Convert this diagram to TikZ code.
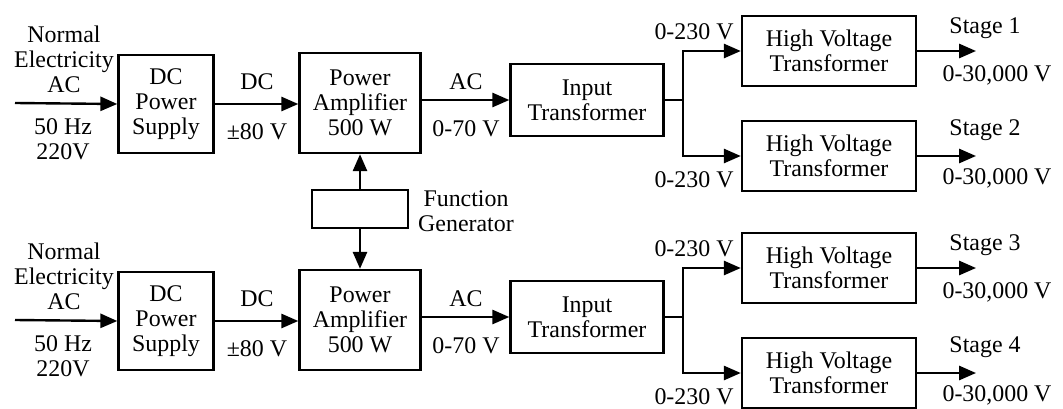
\documentclass[tikz,border=0pt]{standalone}
\usepackage{fontspec}
\setmainfont{Liberation Serif}
\usepackage{tikz}
\usetikzlibrary{arrows.meta}

\tikzset{
  blk/.style={draw,line width=1.7pt,inner sep=0pt,align=center,font=\fontsize{17pt}{17.8pt}\selectfont},
  lab/.style={inner sep=0pt,align=center,font=\fontsize{17pt}{17.8pt}\selectfont},
  arr/.style={line width=1.7pt,-{Triangle[length=12pt,width=10pt]}},
  ln/.style={line width=1.7pt}
}

\begin{document}
\begin{tikzpicture}[x=0.025cm,y=-0.025cm]
  \useasboundingbox (0,0) rectangle (1063,408);
  % upper chain
  \node[blk,minimum width=2.375cm,minimum height=2.45cm] (dca) at (166,104){DC\\Power\\Supply};
  \node[blk,minimum width=3.025cm,minimum height=2.5cm] (paa) at (360,103){Power\\Amplifier\\500 W};
  \node[blk,minimum width=3.825cm,minimum height=1.8cm] (ita) at (587,100){Input\\Transformer};
  \node[blk,minimum width=4.35cm,minimum height=1.75cm] (hv1) at (829,51){High Voltage\\Transformer};
  \node[blk,minimum width=4.35cm,minimum height=1.75cm] (hv2) at (829,156){High Voltage\\Transformer};
  \coordinate (ina) at (15,103);
  \coordinate (spa) at (683,100);
  \coordinate (out1) at (976,51);
  \coordinate (out2) at (976,156);
  \draw[arr] (ina)--(dca.west);
  \draw[arr] (dca.east)--(dca.east-|paa.west);
  \draw[arr] (paa.east|-ita.west)--(ita.west);
  \draw[ln] (ita.east)--(spa);
  \draw[arr] (spa)|-(hv1.west);
  \draw[arr] (spa)|-(hv2.west);
  \draw[arr] (hv1.east)--(out1);
  \draw[arr] (hv2.east)--(out2);
  \node[lab] (nea) at (64,59){Normal\\Electricity\\AC};
  \node[lab] (hza) at (63,139){50 Hz\\220V};
  \node[lab] (dcl1) at (257,82){DC};
  \node[lab] (dcv1) at (257,132){±80 V};
  \node[lab] (acl1) at (466,82){AC};
  \node[lab] (acv1) at (466,129){0-70 V};
  \node[lab] (in1) at (694,32){0-230 V};
  \node[lab] (in2) at (694,180){0-230 V};
  \node[lab] (st1) at (985,28){Stage 1};
  \node[lab] (ov1) at (997,75){0-30,000 V};
  \node[lab] (st2) at (985,130){Stage 2};
  \node[lab] (ov2) at (997,178){0-30,000 V};

  % function generator
  \node[blk,minimum width=2.4cm,minimum height=0.95cm] (fg) at (360,209){};
  \node[lab] (fgl) at (466,211){Function\\Generator};

  % lower chain
  \node[blk,minimum width=2.375cm,minimum height=2.45cm] (dcb) at (166,321){DC\\Power\\Supply};
  \node[blk,minimum width=3.025cm,minimum height=2.5cm] (pab) at (360,320){Power\\Amplifier\\500 W};
  \node[blk,minimum width=3.825cm,minimum height=1.8cm] (itb) at (587,317){Input\\Transformer};
  \node[blk,minimum width=4.35cm,minimum height=1.75cm] (hv3) at (829,268){High Voltage\\Transformer};
  \node[blk,minimum width=4.35cm,minimum height=1.75cm] (hv4) at (829,373){High Voltage\\Transformer};
  \coordinate (inb) at (15,320);
  \coordinate (spb) at (683,317);
  \coordinate (out3) at (976,268);
  \coordinate (out4) at (976,373);
  \draw[arr] (inb)--(dcb.west);
  \draw[arr] (dcb.east)--(dcb.east-|pab.west);
  \draw[arr] (pab.east|-itb.west)--(itb.west);
  \draw[ln] (itb.east)--(spb);
  \draw[arr] (spb)|-(hv3.west);
  \draw[arr] (spb)|-(hv4.west);
  \draw[arr] (hv3.east)--(out3);
  \draw[arr] (hv4.east)--(out4);
  \node[lab] (neb) at (64,276){Normal\\Electricity\\AC};
  \node[lab] (hzb) at (63,356){50 Hz\\220V};
  \node[lab] (dcl2) at (257,299){DC};
  \node[lab] (dcv2) at (257,349){±80 V};
  \node[lab] (acl2) at (466,299){AC};
  \node[lab] (acv2) at (466,346){0-70 V};
  \node[lab] (in3) at (694,249){0-230 V};
  \node[lab] (in4) at (694,397){0-230 V};
  \node[lab] (st3) at (985,245){Stage 3};
  \node[lab] (ov3) at (997,292){0-30,000 V};
  \node[lab] (st4) at (985,347){Stage 4};
  \node[lab] (ov4) at (997,395){0-30,000 V};

  \draw[arr] (fg.north)--(paa.south);
  \draw[arr] (fg.south)--(pab.north);
\end{tikzpicture}
\end{document}
